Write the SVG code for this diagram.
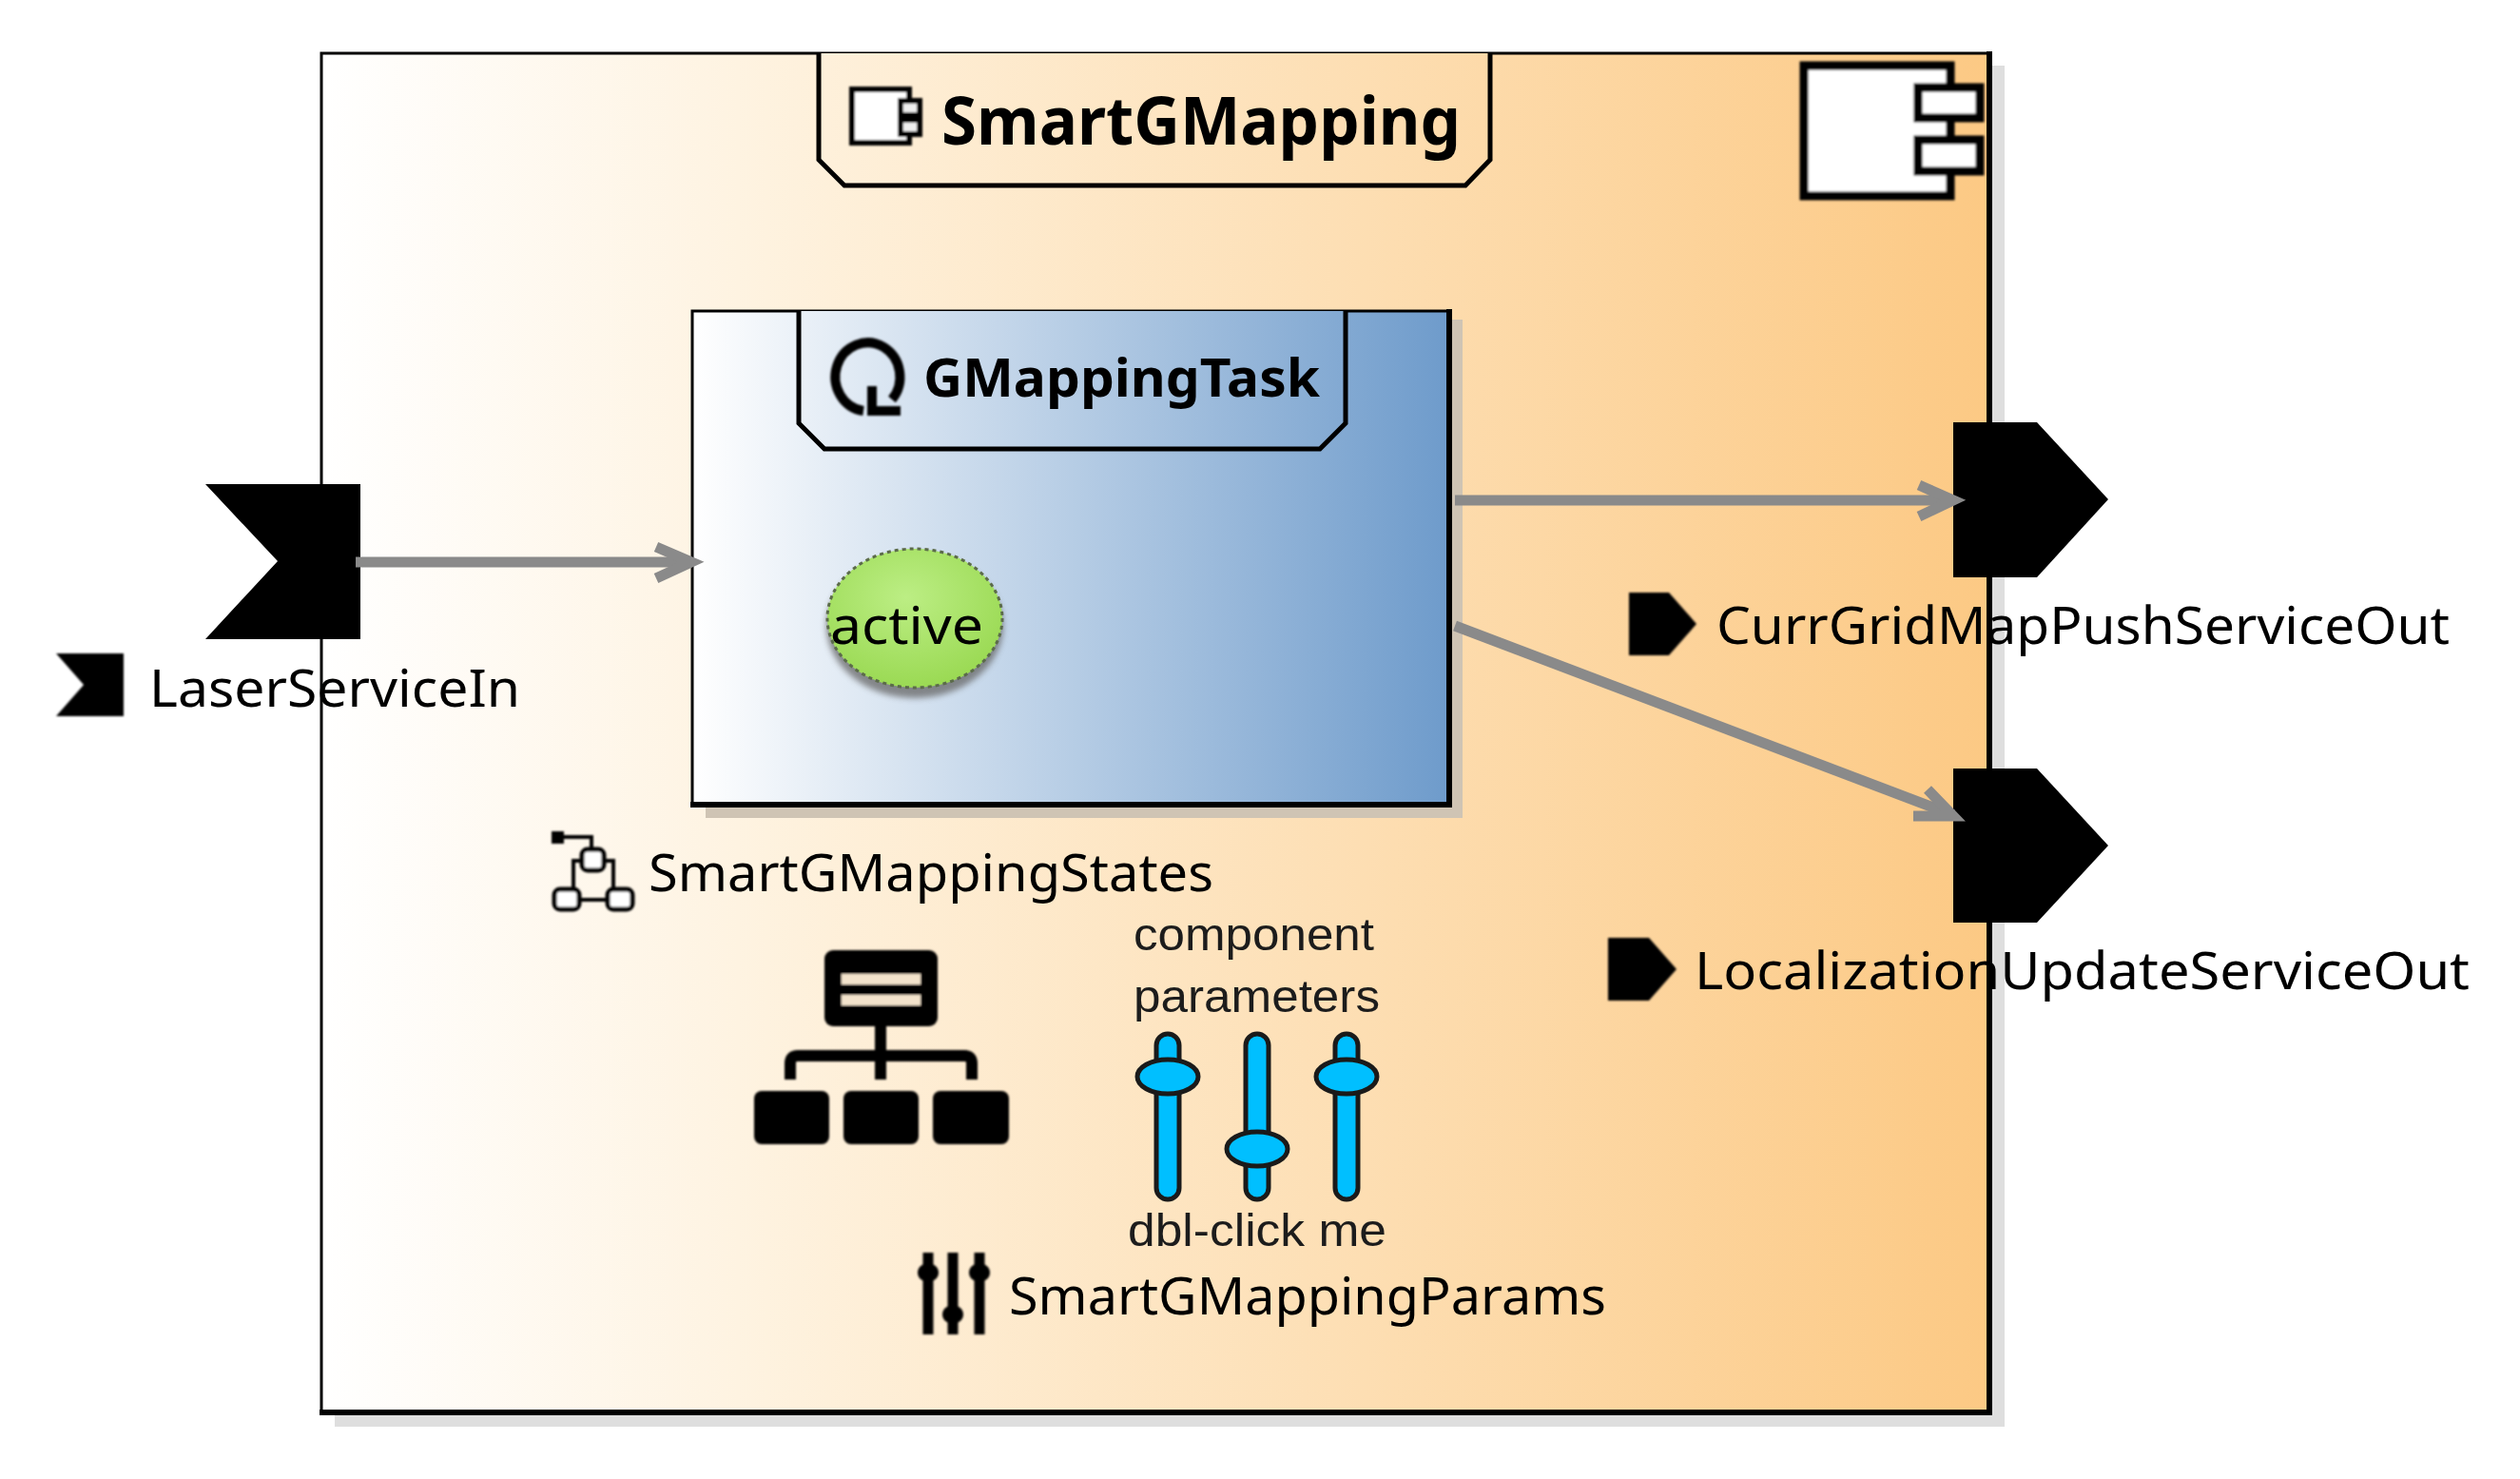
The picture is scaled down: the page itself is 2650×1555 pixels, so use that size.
<svg xmlns="http://www.w3.org/2000/svg" width="2650" height="1555" viewBox="0 0 2650 1555">
<defs>
<linearGradient id="compGrad" gradientUnits="userSpaceOnUse" x1="338" y1="0" x2="2092" y2="0"><stop offset="0" stop-color="#ffffff"/><stop offset="0.25" stop-color="#fef3e1"/><stop offset="1" stop-color="#fcc984"/></linearGradient>
<linearGradient id="taskGrad" gradientUnits="userSpaceOnUse" x1="728" y1="0" x2="1524" y2="0"><stop offset="0" stop-color="#ffffff"/><stop offset="1" stop-color="#6e9bcb"/></linearGradient>
<radialGradient id="stateGrad" cx="0.45" cy="0.35" r="0.7"><stop offset="0" stop-color="#bcee84"/><stop offset="1" stop-color="#98d850"/></radialGradient>
<filter id="soft" x="-10%" y="-10%" width="120%" height="120%"><feGaussianBlur stdDeviation="1"/></filter>
<filter id="blur4" x="-20%" y="-20%" width="140%" height="140%"><feGaussianBlur stdDeviation="3"/></filter>
</defs>
<style>
.lbl{font-family:"Noto Sans","Open Sans","DejaVu Sans",sans-serif;font-size:55px;fill:#000}
.bold{font-family:"Noto Sans","Open Sans","DejaVu Sans",sans-serif;font-weight:700;fill:#000}
.hint{font-family:"Liberation Sans",Arial,sans-serif;font-size:48px;fill:#1c1c1c}
.ln{fill:none;stroke:#000}
.tab{stroke:#000;stroke-width:5}
.conn{fill:none;stroke:#8a8a8a;stroke-width:11}
.sl{fill:#00bfff;stroke:#1a1a1a;stroke-width:5}
.nd{fill:#fff;stroke:#000;stroke-width:5}
</style>
<rect width="2650" height="1555" fill="#fff"/>
<g id="SmartGMapping">
<path d="M352 1488H2095V69H2108V1500H352Z" fill="#dedede"/>
<rect x="338" y="56" width="1753" height="1429" fill="url(#compGrad)"/>
<path class="ln" stroke-width="3" d="M338 1485V56H2092"/>
<path class="ln" stroke-width="6" d="M2092 54V1485H336"/>
<path class="tab" d="M861 56V168L888 195H1541L1567 168V56" fill="url(#compGrad)"/>
<g id="componentGlyphSmall" filter="url(#soft)">
<rect x="896" y="94" width="60" height="56" fill="#fff" stroke="#000" stroke-width="6"/>
<rect x="947" y="106" width="20" height="15" fill="#eee" stroke="#000" stroke-width="6"/>
<rect x="947" y="126" width="20" height="15" fill="#eee" stroke="#000" stroke-width="6"/>
</g>
<text class="bold" x="990" y="152" font-size="70" textLength="546" lengthAdjust="spacingAndGlyphs">SmartGMapping</text>
<g id="componentGlyph" filter="url(#soft)">
<rect x="1897" y="69" width="154" height="137" fill="#fff" stroke="#000" stroke-width="9"/>
<rect x="2017" y="92" width="65" height="32" fill="#fff" stroke="#000" stroke-width="9"/>
<rect x="2017" y="147" width="65" height="33" fill="#fff" stroke="#000" stroke-width="9"/>
</g>
</g>
<g id="GMappingTask">
<path d="M742 849H1526V336H1538V860H742Z" fill="#cfc4b4"/>
<rect x="728" y="327" width="795" height="519" fill="url(#taskGrad)"/>
<path class="ln" stroke-width="3" d="M728 846V327H1524"/>
<path class="ln" stroke-width="6" d="M1524 325V846H726"/>
<path class="tab" d="M840 327V445L867 472H1388L1415 445V327" fill="url(#taskGrad)"/>
<g id="taskGlyph" filter="url(#soft)">
<path d="M908 432A34 36 0 1 1 938 420" fill="none" stroke="#000" stroke-width="10"/>
<path d="M917 406V432H947" fill="none" stroke="#000" stroke-width="10"/>
</g>
<text class="bold" x="971" y="417" font-size="56" textLength="417" lengthAdjust="spacingAndGlyphs">GMappingTask</text>
</g>
<g id="active">
<ellipse cx="962" cy="658" rx="93" ry="76" fill="#666" opacity="0.75" filter="url(#blur4)"/>
<ellipse cx="962" cy="650" rx="92" ry="73" fill="url(#stateGrad)" stroke="#5b6b4a" stroke-width="3" stroke-dasharray="4 4"/>
<text class="lbl" x="873" y="677" textLength="161" lengthAdjust="spacingAndGlyphs">active</text>
</g>
<g id="SmartGMappingStates">
<g filter="url(#soft)">
<rect x="580" y="874" width="13" height="13" fill="#000"/>
<path class="ln" stroke-width="4" d="M590 880H622V896M612 905H603V938M634 905H645V938M608 946H640"/>
<rect class="nd" x="612" y="893" width="23" height="22" rx="6"/>
<rect class="nd" x="583" y="935" width="26" height="21" rx="6"/>
<rect class="nd" x="639" y="935" width="26" height="21" rx="6"/>
</g>
<text class="lbl" x="682" y="937" textLength="594" lengthAdjust="spacingAndGlyphs">SmartGMappingStates</text>
</g>
<g id="hierarchyIcon" filter="url(#soft)">
<rect x="867" y="999" width="119" height="80" rx="9" fill="#000"/>
<rect x="885" y="1024" width="83" height="11" fill="#f3e3cc"/>
<rect x="885" y="1046" width="83" height="11" fill="#f3e3cc"/>
<path class="ln" stroke-width="12" d="M926 1079V1135M831 1135V1118Q831 1110 839 1110H1014Q1022 1110 1022 1118V1135"/>
<rect x="793" y="1147" width="79" height="56" rx="8" fill="#000"/>
<rect x="887" y="1147" width="79" height="56" rx="8" fill="#000"/>
<rect x="981" y="1147" width="80" height="56" rx="8" fill="#000"/>
</g>
<g id="SmartGMappingParams">
<g id="paramsImage">
<text class="hint" x="1192" y="999" textLength="253" lengthAdjust="spacingAndGlyphs">component</text>
<text class="hint" x="1192" y="1064" textLength="259" lengthAdjust="spacingAndGlyphs">parameters</text>
<rect class="sl" x="1216" y="1087" width="24" height="174" rx="12"/>
<rect class="sl" x="1310" y="1087" width="24" height="174" rx="12"/>
<rect class="sl" x="1404" y="1087" width="24" height="174" rx="12"/>
<ellipse class="sl" cx="1228" cy="1132" rx="32" ry="18"/>
<ellipse class="sl" cx="1322" cy="1208" rx="32" ry="18"/>
<ellipse class="sl" cx="1416" cy="1132" rx="32" ry="18"/>
<text class="hint" x="1186" y="1310" textLength="272" lengthAdjust="spacingAndGlyphs">dbl-click me</text>
</g>
<g filter="url(#soft)">
<path class="ln" stroke-width="11" d="M976 1317V1403M1002 1317V1403M1030 1317V1403"/>
<ellipse cx="976" cy="1338" rx="11" ry="10" fill="#000"/>
<ellipse cx="1002" cy="1382" rx="11" ry="10" fill="#000"/>
<ellipse cx="1030" cy="1338" rx="11" ry="10" fill="#000"/>
</g>
<text class="lbl" x="1061" y="1382" textLength="628" lengthAdjust="spacingAndGlyphs">SmartGMappingParams</text>
</g>
<g id="LaserServiceIn">
<path d="M216 509H379V672H216L292 590Z" fill="#000"/>
<path d="M59 687H130V753H59L88 720Z" fill="#000" filter="url(#soft)"/>
<text class="lbl" x="157" y="743" textLength="390" lengthAdjust="spacingAndGlyphs">LaserServiceIn</text>
</g>
<g id="CurrGridMapPushServiceOut">
<path d="M2054 444H2142L2217 525L2142 607H2054Z" fill="#000"/>
<path d="M1713 623H1755L1784 656L1755 689H1713Z" fill="#000" filter="url(#soft)"/>
<text class="lbl" x="1805" y="677" textLength="771" lengthAdjust="spacingAndGlyphs">CurrGridMapPushServiceOut</text>
</g>
<g id="LocalizationUpdateServiceOut">
<path d="M2054 808H2142L2217 889L2142 970H2054Z" fill="#000"/>
<path d="M1691 986H1734L1763 1019L1734 1052H1691Z" fill="#000" filter="url(#soft)"/>
<text class="lbl" x="1782" y="1040" textLength="815" lengthAdjust="spacingAndGlyphs">LocalizationUpdateServiceOut</text>
</g>
<g id="connectors">
<path class="conn" d="M374 591H727"/>
<path class="conn" d="M690 575L727 591L690 608"/>
<path class="conn" d="M1530 526H2052"/>
<path class="conn" d="M2018 510L2054 526L2018 543"/>
<path class="conn" d="M1530 658L2054 857"/>
<path class="conn" d="M2027 830L2054 858L2012 858"/>
</g>
</svg>
